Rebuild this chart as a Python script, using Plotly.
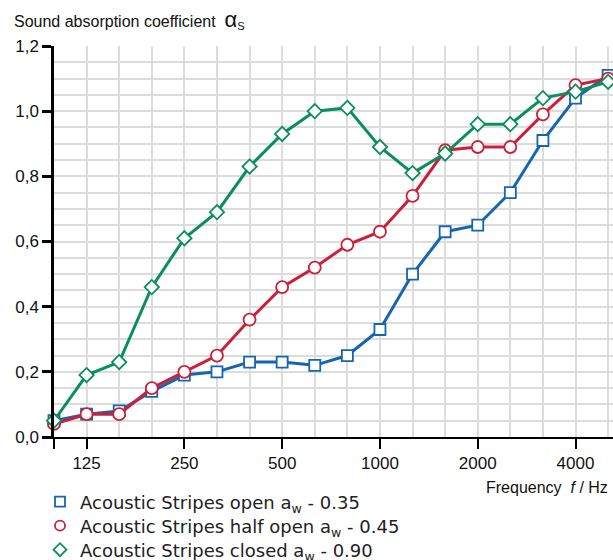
import plotly.graph_objects as go

freqs = ["100", "125", "160", "200", "250", "315", "400", "500", "630", "800",
         "1000", "1250", "1600", "2000", "2500", "3150", "4000", "5000"]
open_vals = [0.05, 0.07, 0.08, 0.14, 0.19, 0.20, 0.23, 0.23, 0.22, 0.25,
             0.33, 0.50, 0.63, 0.65, 0.75, 0.91, 1.04, 1.11]
half_vals = [0.04, 0.07, 0.07, 0.15, 0.20, 0.25, 0.36, 0.46, 0.52, 0.59,
             0.63, 0.74, 0.88, 0.89, 0.89, 0.99, 1.08, 1.10]
closed_vals = [0.05, 0.19, 0.23, 0.46, 0.61, 0.69, 0.83, 0.93, 1.00, 1.01,
               0.89, 0.81, 0.87, 0.96, 0.96, 1.04, 1.06, 1.09]
x_tick_labels = ["", "125", "250", "500", "1000", "2000", "4000"]
x_tick_idx = [0, 1, 4, 7, 10, 13, 16]
y_tick_vals = [0.0, 0.2, 0.4, 0.6, 0.8, 1.0, 1.2]
y_tick_text = ["0,0", "0,2", "0,4", "0,6", "0,8", "1,0", "1,2"]

series = [
    ("Acoustic Stripes open a<sub>w</sub> - 0.35", open_vals, "#1565b0", "square", 11),
    ("Acoustic Stripes half open a<sub>w</sub> - 0.45", half_vals, "#cc1f3a", "circle", 12),
    ("Acoustic Stripes closed a<sub>w</sub> - 0.90", closed_vals, "#0a8f5c", "diamond", 11),
]

idx = list(range(len(freqs)))
fig = go.Figure()
for name, vals, color, sym, size in series:
    fig.add_trace(go.Scatter(
        x=idx, y=vals, name=name, mode="lines+markers",
        line=dict(color=color, width=3),
        marker=dict(symbol=sym, size=size, color="white",
                    line=dict(color=color, width=1.8)),
        cliponaxis=False, showlegend=False,
        customdata=freqs,
        hovertemplate="%{customdata} Hz: %{y}<extra></extra>",
    ))

legend_ids = ["legend", "legend2", "legend3"]
legend_rows = [502, 526, 550]
for (name, vals, color, sym, size), lid in zip(series, legend_ids):
    fig.add_trace(go.Scatter(
        x=[None], y=[None], name=name, mode="markers",
        marker=dict(symbol=sym, size=10, color="white",
                    line=dict(color=color, width=1.8)),
        showlegend=True, legend=lid,
    ))

legend_common = dict(
    xanchor="left", yanchor="middle",
    font=dict(family="DejaVu Sans, sans-serif", size=18, color="#222"),
    bgcolor="rgba(0,0,0,0)",
)

fig.update_layout(
    width=613, height=560,
    margin=dict(l=54, r=0, t=46, b=123, autoexpand=False),
    plot_bgcolor="white", paper_bgcolor="white",
    font=dict(family="Liberation Sans, Arial, sans-serif", size=17, color="#111"),
    xaxis=dict(
        range=[0, 17.15],
        tickvals=x_tick_idx, ticktext=x_tick_labels,
        ticks="outside", ticklen=10, tickwidth=2, tickcolor="black",
        showline=True, linecolor="black", linewidth=2,
        showgrid=False, zeroline=False,
        minor=dict(dtick=1, tick0=0, showgrid=True, gridcolor="#dcdcdc",
                   gridwidth=1.5, ticks=""),
        tickfont=dict(size=17),
    ),
    yaxis=dict(
        range=[0, 1.2],
        tickvals=y_tick_vals, ticktext=y_tick_text,
        ticks="outside", ticklen=9, tickwidth=2.5, tickcolor="black",
        showline=True, linecolor="black", linewidth=2.5,
        showgrid=True, gridcolor="#dcdcdc", gridwidth=1.5,
        zeroline=False,
        minor=dict(dtick=0.05, tick0=0, showgrid=True, gridcolor="#dcdcdc",
                   gridwidth=1.5, ticks=""),
        tickfont=dict(size=17),
    ),
)
for lid, row in zip(legend_ids, legend_rows):
    fig.update_layout({lid: dict(legend_common, x=(40 - 54) / 559,
                                 y=-(row - 437) / 391)})

fig.add_annotation(
    xref="paper", yref="paper", x=(12 - 54) / 559, y=1 + (46 - 20) / 391,
    text="Sound absorption coefficient  <span style='font-size:22px'>α</span><sub>S</sub>",
    showarrow=False, font=dict(size=16, color="#111"),
    xanchor="left", yanchor="middle",
)

fig.add_annotation(
    xref="paper", yref="paper", x=1 - 3 / 559, y=-(487 - 437) / 391,
    text="Frequency  <i>f</i> / Hz", showarrow=False,
    font=dict(size=16, color="#111"), xanchor="right", yanchor="middle",
)

fig.write_html("out.html", config={"displayModeBar": False},
               post_script="document.body.style.margin='0';document.body.style.overflow='hidden';")
